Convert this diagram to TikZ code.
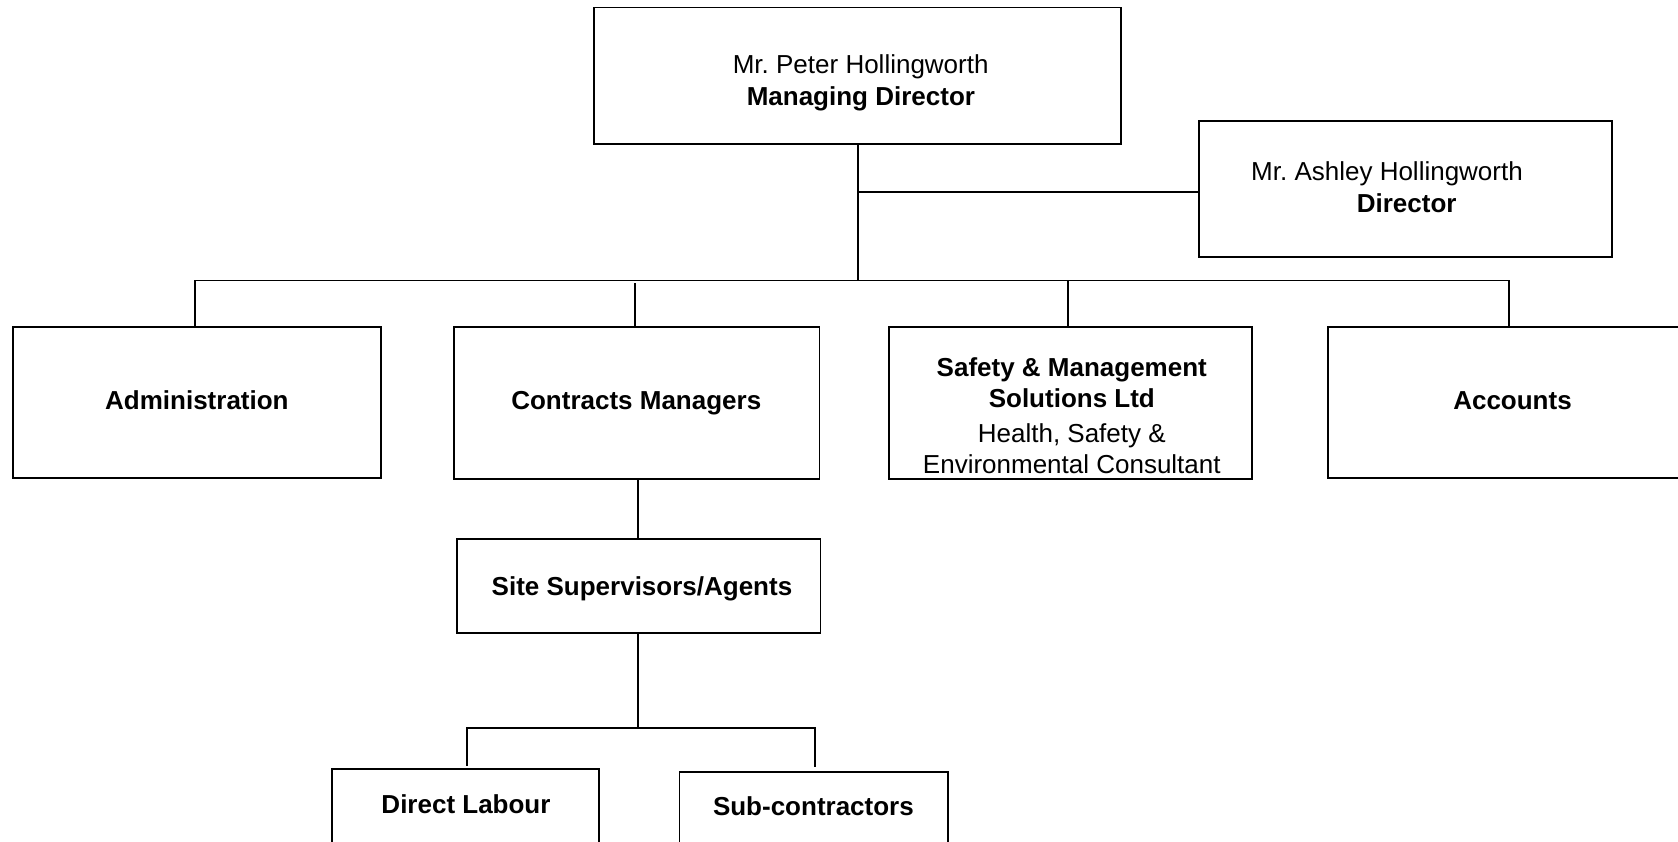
\documentclass[tikz,border=0pt]{standalone}
\usepackage{fontspec}
\setmainfont{Liberation Sans}
\usetikzlibrary{calc}
\begin{document}
\frenchspacing
\begin{tikzpicture}[x=1pt,y=-1pt,
  box/.style={draw=black, line width=1.8pt, rectangle, inner sep=0pt},
  conn/.style={draw=black, line width=1.8pt},
  lbl/.style={anchor=base, inner sep=0pt, font=\fontsize{26}{32}\selectfont},
  blbl/.style={anchor=base, inner sep=0pt, font=\fontsize{26}{32}\selectfont\bfseries}]
\useasboundingbox[fill=white] (0,0) rectangle (1678,842);

% boxes
\node[box, minimum width=527pt, minimum height=136.5pt] (md) at (857.85,75.75) {};
\node[box, minimum width=413.6pt, minimum height=136.3pt] (dir) at (1405.5,188.85) {};
\node[box, minimum width=367.5pt, minimum height=151.6pt] (adm) at (196.95,402.5) {};
\node[box, minimum width=365.3pt, minimum height=152pt] (cm) at (636.85,403) {};
\node[box, minimum width=363.6pt, minimum height=152pt] (sms) at (1070.5,403.3) {};
\node[box, minimum width=368.4pt, minimum height=151.6pt] (acc) at (1512.5,402.5) {};
\node[box, minimum width=363.4pt, minimum height=94.3pt] (site) at (638.7,586.15) {};
\node[box, minimum width=267.2pt, minimum height=100pt] (dl) at (465.6,819.3) {};
\node[box, minimum width=268.9pt, minimum height=100.3pt] (sub) at (813.85,821.85) {};

% texts
\node[lbl]  (mdname)  at (860.7,73.3) {Mr. Peter Hollingworth};
\node[blbl] (mdtitle) at (860.9,106) {Managing Director};
\node[lbl]  (dirname) at (1387,181) {Mr. Ashley Hollingworth};
\node[blbl] (dirtitle) at (1406.7,212.5) {Director};
\node[blbl] (admt) at (196.9,409.5) {Administration};
\node[blbl] (cmt) at (636.3,409.5) {Contracts Managers};
\node[blbl] (smst1) at (1071.8,376) {Safety \& Management};
\node[blbl] (smst2) at (1071.8,407.5) {Solutions Ltd};
\node[lbl]  (smst3) at (1071.8,442) {Health, Safety \&};
\node[lbl]  (smst4) at (1071.8,473.5) {Environmental Consultant};
\node[blbl] (acct) at (1512.5,409) {Accounts};
\node[blbl] (sitet) at (642,595) {Site Supervisors/Agents};
\node[blbl] (dlt) at (466,813.5) {Direct Labour};
\node[blbl] (subt) at (813.4,815) {Sub-contractors};

% connectors
\coordinate (bus) at (857.85,280.5);
\coordinate (dirline) at (857.85,191.7);
\coordinate (bus2) at (637.8,727.7);

\draw[conn] (md.south) -- (bus);
\draw[conn] (dirline) -- (dirline -| dir.west);
\draw[conn] ($(adm.north)+(-1.6,0)$) -- ($(adm.north |- bus)+(-1.6,0)$) -- ($(acc.north |- bus)+(-3.2,0)$) -- ($(acc.north)+(-3.2,0)$);
\draw[conn] ($(cm.north |- bus)+(-1.6,3)$) -- ($(cm.north)+(-1.6,0)$);
\draw[conn] ($(sms.north |- bus)+(-2.2,0)$) -- ($(sms.north)+(-2.2,0)$);
\draw[conn] ($(cm.south)+(0.8,0)$) -- ($(cm.south |- site.north)+(0.8,0)$);
\draw[conn] ($(site.south)+(-0.9,0)$) -- ($(site.south |- bus2)+(-0.9,0)$);
\draw[conn] ($(dl.north)+(1.4,-2.5)$) -- ($(dl.north |- bus2)+(1.4,0)$) -- ($(sub.north |- bus2)+(1.4,0)$) -- ($(sub.north)+(1.4,-3.5)$);
\end{tikzpicture}
\end{document}
